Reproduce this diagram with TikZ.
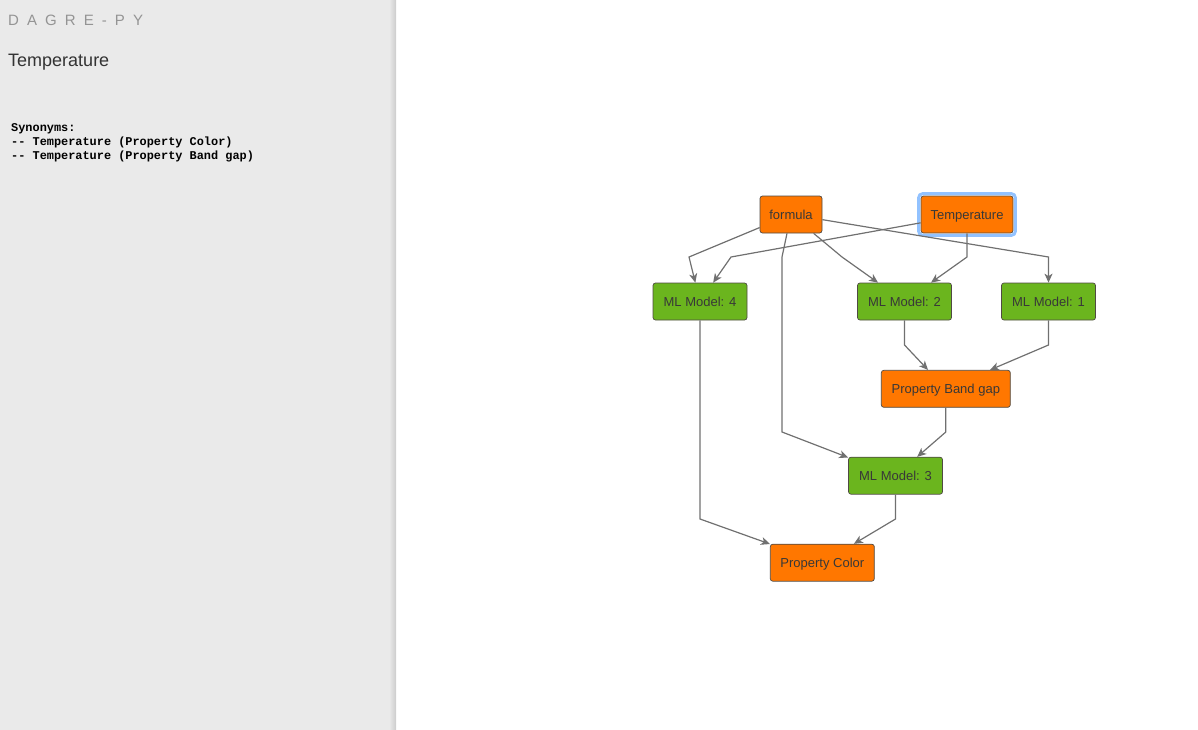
\documentclass[tikz,border=0pt]{standalone}
\usepackage{fontspec}
\setmainfont{Liberation Sans}
\setmonofont{Liberation Mono}
\usetikzlibrary{arrows.meta}

\definecolor{panelgray}{HTML}{EAEAEA}
\definecolor{propcolor}{HTML}{FF7700}
\definecolor{modelcolor}{HTML}{6BB51E}
\definecolor{edgecolor}{HTML}{707070}
\definecolor{boxline}{HTML}{4F4A44}
\definecolor{glowcolor}{HTML}{92C2FF}

\tikzset{
  box/.style={draw=boxline, line width=0.7pt, rounded corners=2.5pt,
    minimum height=37pt, inner sep=0pt, text height=9.4pt, text depth=0pt,
    text=black!78, font=\fontsize{13}{15}\selectfont},
  prop/.style={box, fill=propcolor},
  model/.style={box, fill=modelcolor, minimum width=94pt},
  link/.style={draw=edgecolor, line width=1.2pt, -{Stealth[length=9pt,width=8pt,inset=2.5pt]}}
}

\begin{document}
\begin{tikzpicture}[x=1pt,y=-1pt]
        \useasboundingbox (0,0) rectangle (1198,730);

        % side panel
        \fill[panelgray] (0,0) rectangle (396,730);
        \shade[left color=panelgray, right color=black!20] (389,0) rectangle (396,730);
        \node[anchor=west, inner sep=0pt, text=black!42, font=\fontsize{15}{17}\selectfont\addfontfeature{LetterSpace=26}]
          (brand) at (8,20) {D A G R E - P Y};
        \node[anchor=base west, inner sep=0pt, text=black!80, font=\fontsize{18}{20}\selectfont]
          (title) at (8,67) {Temperature};
        \node[anchor=north west, inner sep=0pt, align=left, font=\ttfamily\bfseries\fontsize{11.9}{14}\selectfont]
          (synonyms) at (11,123) {Synonyms:\\-- Temperature (Property Color)\\-- Temperature (Property Band gap)};

        \begin{scope}[every node/.style={}]
          \node[prop, minimum width=62pt]  (formula) at (791,214.5)   {formula};
          \node[prop, minimum width=92pt]  (temp)    at (967,214.5)   {Temperature};
          \node[model] (m4)  at (700,301.5)   {ML Model: 4};
          \node[model] (m2)  at (904.5,301.5) {ML Model: 2};
          \node[model] (m1)  at (1048.5,301.5) {ML Model: 1};
          \node[prop, minimum width=129pt] (band)  at (945.8,388.8) {Property Band gap};
          \node[model] (m3)  at (895.5,475.7) {ML Model: 3};
          \node[prop, minimum width=104pt] (color) at (822.3,562.7) {Property Color};
        \end{scope}

        % selected node
        \draw[glowcolor, line width=3pt, rounded corners=4pt]
          ([shift={(-2pt,2pt)}]temp.north west) rectangle ([shift={(2pt,-2pt)}]temp.south east);

        \begin{scope}[every path/.style={link}]
          \draw (formula) -- (689,257)   -- (m4);
          \draw (temp)    -- (731,257)   -- (m4);
          \draw (formula) -- (782,257)   -- (782,432) -- (m3);
          \draw (formula) -- (842,257)   -- (m2);
          \draw (formula) -- (1048.5,257) -- (m1);
          \draw (temp)    -- (967,257)   -- (m2);
          \draw (m4)      -- (700,519)   -- (color);
          \draw (m2)      -- (904.5,345) -- (band);
          \draw (m1)      -- (1048.5,345) -- (band);
          \draw (band)    -- (945.8,432) -- (m3);
          \draw (m3)      -- (895.5,519) -- (color);
        \end{scope}

      \end{tikzpicture}
\end{document}
